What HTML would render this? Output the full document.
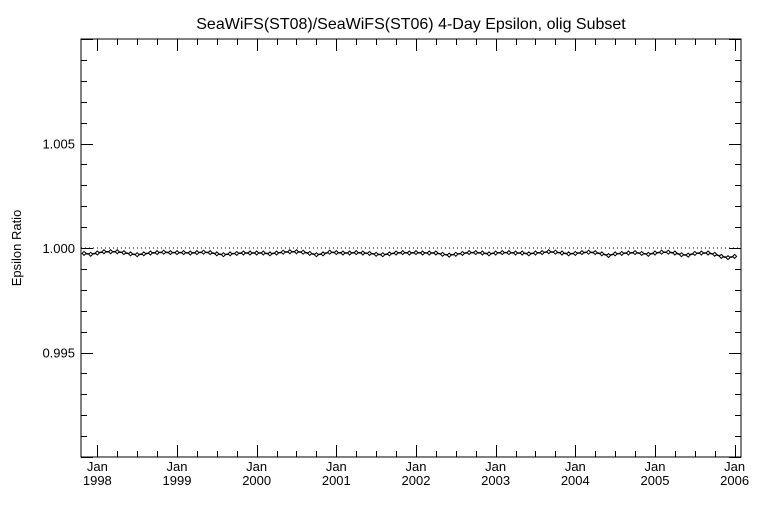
<!DOCTYPE html>
<html><head><meta charset="utf-8"><style>
html,body{margin:0;padding:0;background:#fff}
svg text{font-family:"Liberation Sans",sans-serif;fill:#000}
</style></head><body>
<svg id="c" width="768" height="512" xmlns="http://www.w3.org/2000/svg">
<text x="411" y="29" font-size="16" text-anchor="middle">SeaWiFS(ST08)/SeaWiFS(ST06) 4-Day Epsilon, olig Subset</text>
<text transform="translate(21,248) rotate(-90)" font-size="13" text-anchor="middle">Epsilon Ratio</text>
</svg>
<script>
const yTicks=[0.995,1.000,1.005];
const yTickLabels=["0.995","1.000","1.005"];
const xYears=[1998,1999,2000,2001,2002,2003,2004,2005,2006];
const startMonth=[1997,10];
const values=[
0.99978,0.99974,0.99970,0.99976,0.99982,0.99982,0.99982,0.99978,0.99972,0.99968,0.99972,0.99976,0.99978,0.99980,0.99978,
0.99978,0.99978,0.99976,0.99978,0.99980,0.99978,0.99972,0.99968,0.99972,0.99974,0.99976,0.99976,0.99976,0.99976,
0.99972,0.99976,0.99980,0.99982,0.99982,0.99980,0.99974,0.99968,0.99972,0.99980,0.99978,0.99976,0.99976,
0.99978,0.99976,0.99974,0.99970,0.99968,0.99972,0.99976,0.99978,0.99976,0.99978,0.99976,0.99976,0.99976,
0.99970,0.99966,0.99970,0.99974,0.99978,0.99978,0.99976,0.99972,0.99976,0.99978,0.99978,0.99976,0.99976,
0.99972,0.99976,0.99978,0.99982,0.99980,0.99976,0.99972,0.99974,0.99978,0.99980,0.99978,0.99972,0.99964,
0.99972,0.99974,0.99976,0.99978,0.99974,0.99970,0.99976,0.99980,0.99980,0.99976,0.99968,0.99966,0.99974,
0.99976,0.99976,0.99970,0.99960,0.99954,0.99960,0.99972];
const L=81,R=741,T=39,B=457,xMin=1997.795,xMax=2006.08,yMin=0.990,yMax=1.010;
const sx=t=>L+(t-xMin)/(xMax-xMin)*(R-L);
const sy=v=>B-(v-yMin)/(yMax-yMin)*(B-T);
const svg=document.getElementById('c');const NS='http://www.w3.org/2000/svg';
function mk(tag,attrs){const e=document.createElementNS(NS,tag);for(const k in attrs)e.setAttribute(k,attrs[k]);svg.appendChild(e);return e;}
const frame=mk('rect',{x:L,y:T,width:R-L,height:B-T,fill:'none',stroke:'#000','stroke-width':1});


for(let i=0;i<=20;i++){const v=yMin+i*0.001;const y=Math.round(sy(v))+0.5;const major=(i%5===0);const len=major?12:6;
const a=mk('line',{x1:L,y1:y,x2:L+len,y2:y,stroke:'#000'});
const b=mk('line',{x1:R-len,y1:y,x2:R,y2:y,stroke:'#000'});}
yTicks.forEach((v,i)=>{const t=mk('text',{x:L-6,y:sy(v)+5,'font-size':13,'text-anchor':'end'});t.textContent=yTickLabels[i];
});
for(let q=1997.75;q<=xMax;q+=0.25){const x=Math.round(sx(q))+0.5;if(x<L||x>R)continue;const major=Math.abs(q-Math.round(q))<1e-6;const len=major?12:6;
const a=mk('line',{x1:x,y1:B-len,x2:x,y2:B,stroke:'#000'});
const b=mk('line',{x1:x,y1:T,x2:x,y2:T+len,stroke:'#000'});}
xYears.forEach(yr=>{const x=sx(yr);
const t1=mk('text',{x:x,y:471,'font-size':13,'text-anchor':'middle'});t1.textContent='Jan';
const t2=mk('text',{x:x,y:485,'font-size':13,'text-anchor':'middle'});t2.textContent=String(yr);});
const ref=mk('line',{x1:L,y1:sy(1.0),x2:R,y2:sy(1.0),stroke:'#000','stroke-dasharray':'1,3'});

const pts=values.map((v,i)=>{const t=startMonth[0]+(startMonth[1]-1+i)/12;return [sx(t),sy(v)];}).filter(p=>p[0]>=L&&p[0]<=R);
const pl=mk('polyline',{points:pts.map(p=>p[0].toFixed(1)+','+p[1].toFixed(1)).join(' '),fill:'none',stroke:'#000','stroke-width':1.5});

pts.forEach(p=>{const d=mk('path',{d:`M${p[0]-2},${p[1]}L${p[0]},${p[1]-2}L${p[0]+2},${p[1]}L${p[0]},${p[1]+2}Z`,fill:'#fff',stroke:'#000','stroke-width':1});
});
</script>
</body></html>
